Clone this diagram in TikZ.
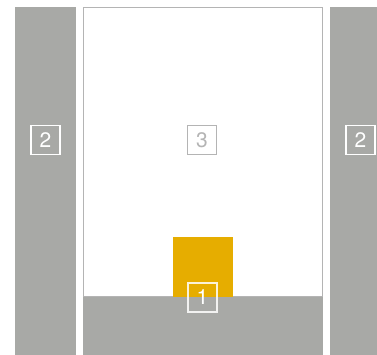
\documentclass[tikz,border=0pt]{standalone}
\usepackage{fontspec}
\setmainfont{TeX Gyre Heros}
\definecolor{wallgray}{HTML}{A8A9A6}
\definecolor{framegray}{HTML}{B4B4B4}
\definecolor{gold}{HTML}{E6AD00}
\tikzset{
  tag/.style={draw, line width=1.1pt, minimum width=29pt, minimum height=29pt, inner sep=0pt, font=\fontsize{21}{21}\selectfont},
  whitetag/.style={tag, draw=white, text=white},
  graytag/.style={tag, draw=framegray, text=framegray}
}
\begin{document}
\begin{tikzpicture}[x=1pt,y=-1pt]
\useasboundingbox (0,0) rectangle (377,355);
\fill[white] (0,0) rectangle (377,355);
% side bars
\fill[wallgray] (15,7) rectangle (76,355);
\fill[wallgray] (330,7) rectangle (377,355);
% main frame
\draw[framegray, line width=1.2pt, fill=white] (83.6,7.6) rectangle (322.4,297);
% gold block
\fill[gold] (173,237) rectangle (233,297);
% floor
\fill[wallgray] (83,297) rectangle (323,355);
% labels
\node[whitetag] (l2) at (45.5,140) {2};
\node[whitetag] (r2) at (360.5,140) {2};
\node[graytag] (c3) at (202,140) {3};
\node[whitetag, draw opacity=0.85] (b1) at (202.5,297.5) {1};
\end{tikzpicture}
\end{document}
